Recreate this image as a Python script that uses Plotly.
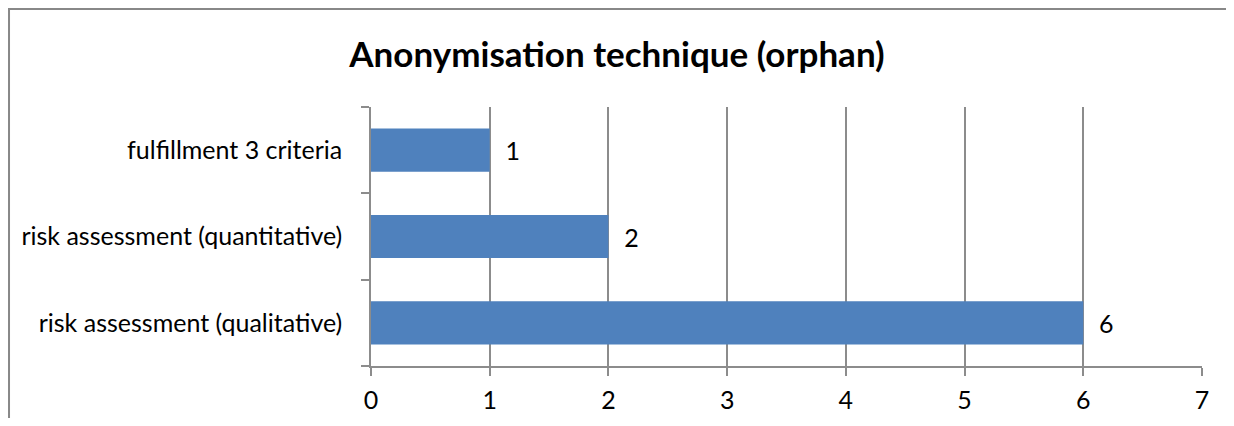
import plotly.graph_objects as go

categories = ['risk assessment (qualitative)', 'risk assessment (quantitative)', 'fulfillment 3 criteria']
counts = [6, 2, 1]
x_ticks = [0, 1, 2, 3, 4, 5, 6, 7]

FONT = 'Lato, Calibri, sans-serif'
GRID = '#8c8c8c'

fig = go.Figure()

fig.add_trace(go.Bar(
    x=counts,
    y=categories,
    orientation='h',
    marker=dict(color='#4f81bd', line=dict(width=0)),
    text=counts,
    texttemplate='  %{x}',
    textposition='outside',
    textfont=dict(size=25, color='#000000', family=FONT),
    cliponaxis=False,
))

# page body keeps an 8px margin, so the figure is 16px smaller than the window
fig.update_layout(
    width=1218,
    height=410,
    margin=dict(l=363, r=24, t=99, b=52, autoexpand=False),
    paper_bgcolor='white',
    plot_bgcolor='white',
    font=dict(family=FONT, size=25, color='#000000'),
    title=dict(
        text='<b>Anonymisation technique (orphan)</b>',
        font=dict(size=35, family=FONT, color='#000000'),
        x=0.5, xanchor='center',
        y=1 - 47 / 410, yanchor='middle',
    ),
    bargap=0.5,
    showlegend=False,
)

fig.update_xaxes(
    range=[0, 7],
    tickvals=x_ticks,
    showgrid=True,
    gridcolor=GRID,
    gridwidth=1.5,
    showline=True,
    linecolor=GRID,
    linewidth=1.5,
    ticks='outside',
    ticklen=8,
    tickcolor=GRID,
    tickwidth=1.5,
    ticklabelstandoff=3,
    zeroline=False,
    automargin=False,
    fixedrange=True,
)

fig.update_yaxes(
    categoryorder='array',
    categoryarray=categories,
    showgrid=False,
    showline=True,
    linecolor=GRID,
    linewidth=1.5,
    ticks='outside',
    tickson='boundaries',
    ticklen=8,
    tickcolor=GRID,
    tickwidth=1.5,
    ticklabelstandoff=22,
    automargin=False,
    fixedrange=True,
)

# outer chart frame (left/top edges visible, the rest runs off the page)
fig.add_shape(
    type='rect', xref='paper', yref='paper',
    x0=-0.4356, x1=2, y0=-1, y1=357 / 259,
    line=dict(color='#888888', width=2),
    fillcolor='rgba(0,0,0,0)',
    layer='below',
)

fig.write_html('out.html')
